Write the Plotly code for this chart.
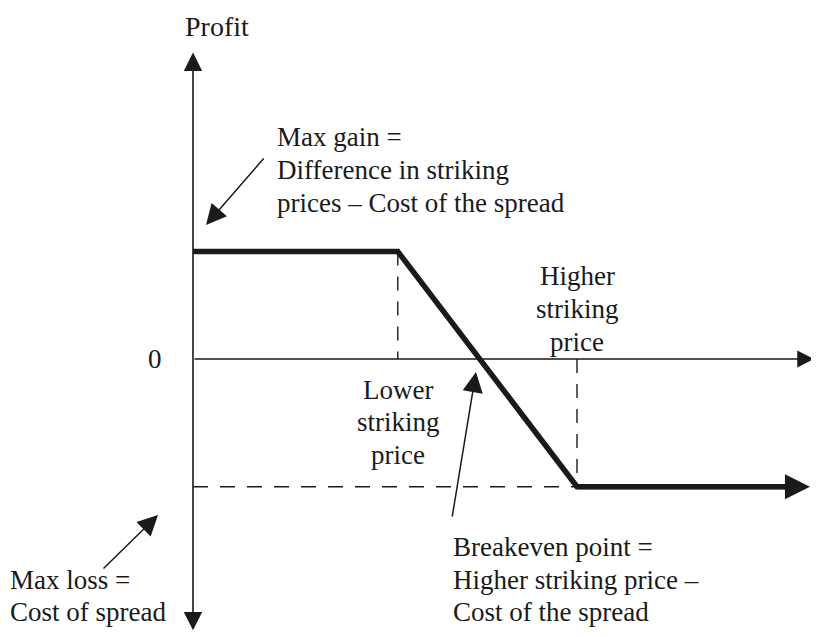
import plotly.graph_objects as go

# ---- data (put spread payoff, arbitrary units) ----
price = [0, 40, 75, 120.5]        # underlying price points
profit = [16, 16, -19, -19]       # profit at those prices
lower_strike = 40
higher_strike = 75
max_gain = 16
max_loss = -19

axis_x_end = 121.3
axis_y_top = 45.6
axis_y_bottom = -40.6

# ---- layout helpers (screen pixel -> data, for label placement) ----
W, H = 819, 637
PAGE_OFF = 8                       # default body margin of the html page
X0_PX, Y0_PX = 193, 359            # screen position of the origin
SX, SY = 5.12, 6.72
def px(x): return (x - X0_PX) / SX
def py(y): return (Y0_PX - y) / SY

INK = "#1a1a1a"
FAMILY = "Liberation Serif"
FS = 27

fig = go.Figure()

# dashed guide lines
fig.add_trace(go.Scatter(x=[lower_strike, lower_strike], y=[max_gain, 0], mode="lines",
                         line=dict(color=INK, width=1.4, dash="14px,11px"), hoverinfo="skip"))
fig.add_trace(go.Scatter(x=[higher_strike, higher_strike], y=[0, max_loss], mode="lines",
                         line=dict(color=INK, width=1.4, dash="14px,11px"), hoverinfo="skip"))
fig.add_trace(go.Scatter(x=[0, higher_strike], y=[max_loss, max_loss], mode="lines",
                         line=dict(color=INK, width=1.4, dash="15px,12px"), hoverinfo="skip"))

# payoff line
fig.add_trace(go.Scatter(x=price[:-1] + [price[-1] - 4], y=profit, mode="lines",
                         line=dict(color=INK, width=5.5), hoverinfo="skip"))

annotations = []
# axes with arrowheads
annotations.append(dict(x=0, y=axis_y_top, ax=0, ay=axis_y_bottom, xref="x", yref="y",
                        axref="x", ayref="y", text="", showarrow=True, arrowhead=2,
                        arrowside="end+start", arrowwidth=1.6, arrowsize=2.3, arrowcolor=INK))
annotations.append(dict(x=axis_x_end, y=0, ax=0, ay=0, xref="x", yref="y",
                        axref="x", ayref="y", text="", showarrow=True, arrowhead=2,
                        arrowwidth=1.6, arrowsize=2.1, arrowcolor=INK))
# payoff arrowhead
annotations.append(dict(x=price[-1], y=profit[-1], ax=price[-2], ay=profit[-2], xref="x", yref="y",
                        axref="x", ayref="y", text="", showarrow=True, arrowhead=2,
                        arrowwidth=5, arrowsize=1.0, arrowcolor=INK))

# pointer arrows
def pointer(tail, head):
    return dict(x=px(head[0]), y=py(head[1]), ax=px(tail[0]), ay=py(tail[1]),
                xref="x", yref="y", axref="x", ayref="y", text="", showarrow=True,
                arrowhead=2, arrowwidth=1.5, arrowsize=2.7, arrowcolor=INK)
annotations.append(pointer((265, 157), (206, 225)))
annotations.append(pointer((102, 570), (158, 515)))
annotations.append(pointer((452, 518), (476, 372)))

# texts (one annotation per line for exact line spacing)
def block(lines, x, ys, xanchor="center", size=FS):
    for t, y in zip(lines, ys):
        annotations.append(dict(x=px(x), y=py(y), xref="x", yref="y", text=t, showarrow=False,
                                xanchor=xanchor, yanchor="middle",
                                font=dict(family=FAMILY, size=size, color=INK)))

block(["Profit"], 217, [26], size=28)
block(["0"], 155, [359])
block(["Max gain =", "Difference in striking", "prices – Cost of the spread"],
      275, [137, 170, 203], xanchor="left")
block(["Higher", "striking", "price"], 577, [276, 309, 342])
block(["Lower", "striking", "price"], 398, [390, 422, 455])
block(["Breakeven point =", "Higher striking price –", "Cost of the spread"],
      451, [547, 580, 612], xanchor="left")
block(["Max loss =", "Cost of spread"], 8, [580, 612], xanchor="left")

# figure pixel = screen pixel - PAGE_OFF
fig.update_layout(
    width=W, height=H,
    margin=dict(l=0, r=0, t=0, b=0),
    paper_bgcolor="white", plot_bgcolor="white",
    showlegend=False,
    font=dict(family=FAMILY, color=INK),
    xaxis=dict(range=[px(PAGE_OFF), px(PAGE_OFF + W)], visible=False, fixedrange=True),
    yaxis=dict(range=[py(PAGE_OFF + H), py(PAGE_OFF)], visible=False, fixedrange=True),
    annotations=annotations,
)

fig.write_html("out.html")
